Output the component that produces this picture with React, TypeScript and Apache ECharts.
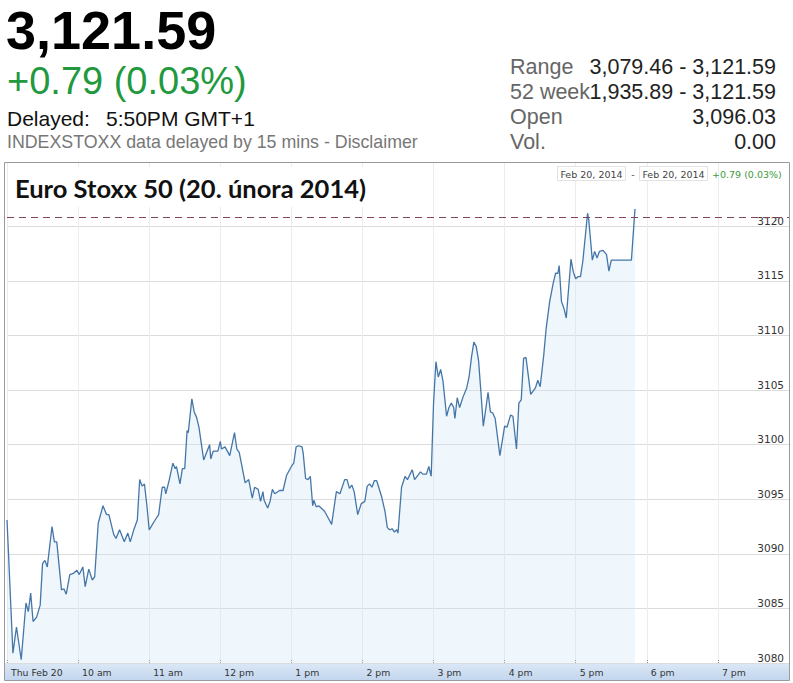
import React, { useEffect, useRef } from "react";
import * as echarts from "echarts";

// minutes after 9:00 (Thu Feb 20, 2014)
const minutes = [
  0, 5, 8, 12, 16, 18, 20, 22, 25, 28, 30, 32, 34, 38, 40, 42, 46, 48, 50, 53,
  56, 59, 61, 64, 66, 69, 72, 74, 77, 81, 84, 86, 90, 92, 95, 99, 102, 104, 107, 110,
  112, 114, 116, 118, 120, 125, 128, 131, 133, 134, 137, 140, 142, 143, 146, 148, 150, 152, 153, 156,
  158, 160, 162, 166, 171, 172, 174, 178, 180, 181, 184, 188, 192, 194, 196, 201, 204, 207, 209, 212,
  214, 216, 217, 220, 222, 224, 226, 230, 233, 236, 240, 242, 244, 246, 249, 250, 252, 254, 256, 258,
  259, 261, 263, 266, 268, 271, 274, 278, 281, 285, 287, 289, 291, 293, 296, 299, 302, 304, 306, 308,
  310, 312, 316, 319, 321, 323, 325, 327, 329, 330, 333, 336, 338, 342, 344, 349, 351, 354, 356, 358,
  360, 362, 364, 366, 368, 371, 373, 375, 377, 378, 380, 382, 385, 388, 390, 392, 394, 396, 398, 400,
  402, 404, 406, 408, 410, 412, 416, 420, 422, 425, 427, 430, 432, 434, 436, 438, 442, 446, 448, 450,
  453, 455, 458, 461, 463, 465, 466, 468, 470, 472, 476, 478, 480, 482, 484, 486, 490, 491, 494, 496,
  498, 500, 503, 506, 508, 510, 527, 530,
];
const prices = [
  3093.1, 3080.9, 3083.3, 3080.3, 3085.5, 3084.7, 3086.4, 3083.8, 3084.2, 3085.3, 3089.1, 3089.4, 3088.8, 3092.5, 3091.1, 3091.1, 3086.7, 3086.8, 3086.3, 3088.1,
  3088.2, 3088.5, 3088.1, 3088.8, 3087.0, 3088.6, 3087.6, 3087.9, 3092.8, 3094.4, 3093.6, 3093.6, 3091.8, 3091.4, 3092.2, 3091.1, 3091.9, 3091.1, 3092.2, 3093.1,
  3096.8, 3096.2, 3096.4, 3094.5, 3092.2, 3093.1, 3093.6, 3096.1, 3096.1, 3095.5, 3096.8, 3098.3, 3097.8, 3098.0, 3096.4, 3097.8, 3097.8, 3101.3, 3101.1, 3104.2,
  3103.0, 3102.5, 3101.6, 3098.6, 3100.0, 3098.7, 3099.4, 3099.4, 3100.3, 3099.6, 3099.8, 3099.0, 3101.1, 3099.6, 3099.3, 3096.5, 3096.8, 3095.1, 3096.1, 3095.9,
  3094.8, 3095.7, 3094.9, 3094.2, 3094.8, 3095.9, 3095.5, 3095.8, 3095.8, 3097.2, 3098.0, 3098.3, 3099.8, 3099.9, 3099.8, 3099.2, 3096.9, 3096.8, 3097.1, 3094.4,
  3094.9, 3094.3, 3094.4, 3094.1, 3093.9, 3093.3, 3092.7, 3095.7, 3095.5, 3096.8, 3096.8, 3096.0, 3096.3, 3095.7, 3093.6, 3094.6, 3094.8, 3096.2, 3096.4, 3096.1,
  3096.7, 3096.7, 3095.3, 3093.9, 3092.4, 3092.2, 3092.3, 3092.0, 3092.2, 3091.9, 3096.1, 3097.1, 3096.8, 3097.7, 3096.8, 3097.5, 3097.3, 3097.3, 3098.0, 3097.1,
  3103.8, 3107.6, 3106.2, 3106.9, 3105.8, 3102.6, 3103.4, 3103.8, 3103.4, 3102.4, 3104.3, 3103.4, 3104.4, 3105.2, 3106.2, 3108.0, 3109.4, 3109.0, 3107.7, 3104.8,
  3101.7, 3103.2, 3104.8, 3103.0, 3102.9, 3102.4, 3099.0, 3101.7, 3101.6, 3102.7, 3102.6, 3099.6, 3103.8, 3104.1, 3107.9, 3108.0, 3104.6, 3105.2, 3105.9, 3105.3,
  3108.2, 3110.6, 3113.1, 3114.8, 3115.7, 3115.7, 3116.4, 3113.1, 3112.5, 3111.6, 3117.0, 3115.8, 3115.2, 3115.4, 3115.4, 3116.8, 3121.2, 3120.6, 3116.9, 3117.7,
  3117.1, 3117.7, 3117.8, 3117.4, 3115.9, 3116.9, 3116.9, 3121.59,
];
const xTickLabels = ["Thu Feb 20", "10 am", "11 am", "12 pm", "1 pm", "2 pm", "3 pm", "4 pm", "5 pm", "6 pm", "7 pm"];
const yTicks = [3080, 3085, 3090, 3095, 3100, 3105, 3110, 3115, 3120];
const previousClose = 3120.8;

const statLabels = ["Range", "52 week", "Open", "Vol."];
const statValues = ["3,079.46 - 3,121.59", "1,935.89 - 3,121.59", "3,096.03", "0.00"];

const SANS = "'Liberation Sans', Arial, sans-serif";
const SMALL = "'DejaVu Sans', Verdana, sans-serif";

export default function App() {
  const ref = useRef<HTMLDivElement>(null);
  useEffect(() => {
    if (!ref.current) return;
    const chart = echarts.init(ref.current, null, { renderer: "svg" });
    const data = minutes.map((m, i) => [m, prices[i]]);
    const statGraphics: any[] = [];
    statLabels.forEach((l, i) => {
      const cy = 67 + i * 25;
      statGraphics.push({
        type: "text", x: 510, y: cy,
        style: { text: l, fill: "#666", font: `21.5px ${SANS}`, verticalAlign: "middle" },
      });
      statGraphics.push({
        type: "text", x: 776, y: cy,
        style: { text: statValues[i], fill: "#222", font: `21.5px ${SANS}`, align: "right", verticalAlign: "middle" },
      });
    });
    chart.setOption({
      animation: false,
      grid: { left: 7, right: 4, top: 163, bottom: 20, containLabel: false },
      xAxis: {
        type: "value", min: 0, max: 660, interval: 60,
        axisLine: { show: false },
        axisTick: { show: true, inside: true, length: 4, lineStyle: { color: "#888", type: "dotted" } },
        axisLabel: {
          formatter: (v: number) => xTickLabels[Math.round(v / 60)] ?? "",
          align: "left", padding: [0, 0, 0, 4], margin: 5,
          color: "#333", fontSize: 9.3, fontFamily: SMALL, showMaxLabel: false,
        },
        splitLine: { show: true, lineStyle: { color: "#ececec", width: 1 } },
      },
      yAxis: {
        type: "value", position: "right", min: 3080, max: 3125.8, interval: 5,
        axisLine: { show: false }, axisTick: { show: false },
        axisLabel: {
          inside: true, margin: 5, verticalAlign: "bottom",
          formatter: (v: number) => (yTicks.includes(v) ? String(v) : ""),
          color: "#333", fontSize: 10.5, fontFamily: SMALL,
        },
        splitLine: {
          show: true, showMaxLine: false,
          lineStyle: { color: [...yTicks.map(() => "#dcdcdc"), "rgba(0,0,0,0)", "rgba(0,0,0,0)"], width: 1 },
        },
      },
      series: [
        {
          type: "line", data, showSymbol: false, symbol: "none", clip: false,
          lineStyle: { color: "#4576a8", width: 1.3 },
          areaStyle: { color: "rgba(205,228,250,0.45)", origin: "start" },
          markLine: {
            silent: true, symbol: ["none", "none"], label: { show: false },
            lineStyle: { color: "#83455a", type: [7, 5], width: 1 },
            data: [{ yAxis: previousClose }],
          },
          z: 3,
        },
      ],
      graphic: [
        {
          type: "rect", z: -1, shape: { x: 5, y: 663, width: 784, height: 17 },
          style: {
            fill: new echarts.graphic.LinearGradient(0, 0, 0, 1, [
              { offset: 0, color: "#dce8f6" }, { offset: 1, color: "#c2d6ee" },
            ]),
          },
        },
        {
          type: "rect", z: 10, shape: { x: 4.5, y: 162.5, width: 785, height: 518 },
          style: { fill: "none", stroke: "#9a9a9a", lineWidth: 1 },
        },
        { type: "rect", z: 10, shape: { x: 10, y: 167, width: 366, height: 40 }, style: { fill: "#fff" } },
        {
          type: "text", z: 11, x: 15, y: 188,
          style: { text: "Euro Stoxx 50 (20. února 2014)", fill: "#111", font: `bold 25.5px Lato, 'Open Sans', sans-serif`, verticalAlign: "middle" },
        },
        { type: "rect", z: 10, shape: { x: 557.5, y: 166.5, width: 68, height: 14 }, style: { fill: "#fff", stroke: "#e2e2e2" } },
        { type: "rect", z: 10, shape: { x: 639.5, y: 166.5, width: 68, height: 14 }, style: { fill: "#fff", stroke: "#e2e2e2" } },
        { type: "text", z: 11, x: 591.5, y: 174, style: { text: "Feb 20, 2014", fill: "#444", font: `9.5px ${SMALL}`, align: "center", verticalAlign: "middle" } },
        { type: "text", z: 11, x: 633, y: 174, style: { text: "-", fill: "#444", font: `9.5px ${SMALL}`, align: "center", verticalAlign: "middle" } },
        { type: "text", z: 11, x: 673.5, y: 174, style: { text: "Feb 20, 2014", fill: "#444", font: `9.5px ${SMALL}`, align: "center", verticalAlign: "middle" } },
        { type: "text", z: 11, x: 712, y: 174, style: { text: "+0.79 (0.03%)", fill: "#3c9a3c", font: `9.5px ${SMALL}`, verticalAlign: "middle" } },
        { type: "text", x: 6, y: 30, style: { text: "3,121.59", fill: "#000", font: `bold 54px ${SANS}`, verticalAlign: "middle" } },
        { type: "text", x: 7, y: 81, style: { text: "+0.79 (0.03%)", fill: "#22993e", font: `38px ${SANS}`, verticalAlign: "middle" } },
        { type: "text", x: 7, y: 118, style: { text: "Delayed:", fill: "#111", font: `21px ${SANS}`, verticalAlign: "middle" } },
        { type: "text", x: 106, y: 118, style: { text: "5:50PM GMT+1", fill: "#111", font: `21px ${SANS}`, verticalAlign: "middle" } },
        { type: "text", x: 7, y: 142, style: { text: "INDEXSTOXX data delayed by 15 mins - Disclaimer", fill: "#777", font: `17.8px ${SANS}`, verticalAlign: "middle" } },
        ...statGraphics,
      ],
    });
    return () => chart.dispose();
  }, []);
  return <div ref={ref} style={{ position: "absolute", left: 0, top: 0, width: 793, height: 683, background: "#fff" }} />;
}
